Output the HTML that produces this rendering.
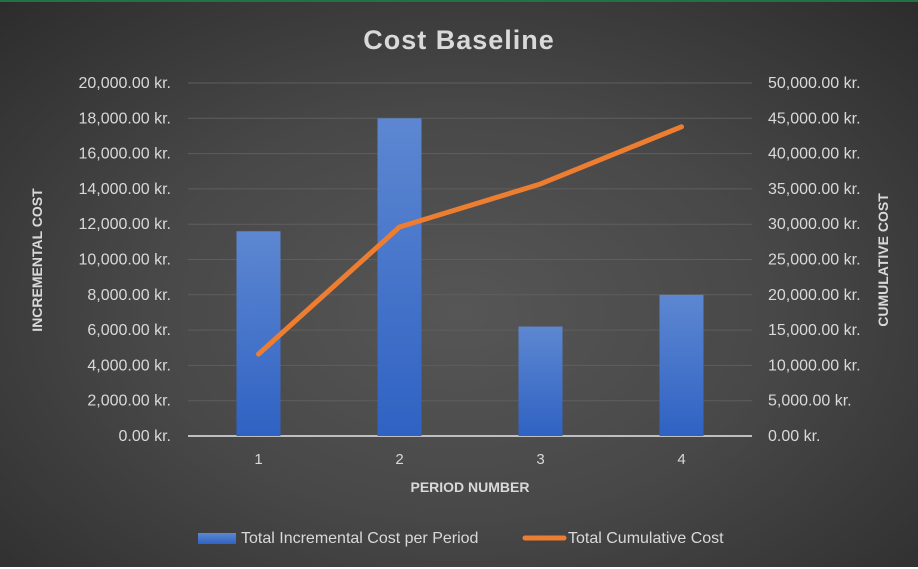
<!DOCTYPE html>
<html><head><meta charset="utf-8"><style>
html,body{margin:0;padding:0;}
body{width:918px;height:567px;overflow:hidden;font-family:"Liberation Sans",sans-serif;}
#chart{position:relative;width:918px;height:567px;background:radial-gradient(ellipse 75% 80% at 50% 55%,#565656 0%,#484848 45%,#2a2a2a 100%);border-top:2px solid #217346;box-sizing:border-box;}
svg{position:absolute;left:0;top:0;}
text{fill:#d9d9d9;font-family:"Liberation Sans",sans-serif;}
</style></head><body>
<div id="chart">
<svg id="svg" width="918" height="567">
<defs><linearGradient id="bg" x1="0" y1="0" x2="0" y2="1"><stop offset="0" stop-color="#5d87d1"/><stop offset="1" stop-color="#2f62c3"/></linearGradient></defs>
<text x="459" y="47" text-anchor="middle" font-size="27" font-weight="bold" fill="#f2f2f2" style="letter-spacing:1px">Cost Baseline</text>
<g id="grid"></g><g id="bars"></g><g id="line"></g><g id="ticks"></g>
<text transform="translate(42,258) rotate(-90)" text-anchor="middle" font-size="14" font-weight="bold">INCREMENTAL COST</text>
<text transform="translate(888,258) rotate(-90)" text-anchor="middle" font-size="14" font-weight="bold">CUMULATIVE COST</text>
<text x="470" y="490" text-anchor="middle" font-size="14" font-weight="bold">PERIOD NUMBER</text>
<g>
<rect x="198" y="531" width="38" height="11" fill="url(#bg)"/>
<text x="241" y="541" font-size="16">Total Incremental Cost per Period</text>
<line x1="525" y1="536" x2="564" y2="536" stroke="#ed7d31" stroke-width="5" stroke-linecap="round"/>
<text x="568" y="541" font-size="16">Total Cumulative Cost</text>
</g>
</svg></div>
<script>
const categories=["1","2","3","4"];
const incremental=[11600,18000,6200,8000];
const cumulative=[11600,29600,35700,43800];
const leftTicks=[0,2000,4000,6000,8000,10000,12000,14000,16000,18000,20000];
const rightTicks=[0,5000,10000,15000,20000,25000,30000,35000,40000,45000,50000];
const X0=188,X1=752,Y0=434,Y1=81,LMAX=20000,RMAX=50000;
const ns="http://www.w3.org/2000/svg";
function yL(v){return Y0-(v/LMAX)*(Y0-Y1);}
function yR(v){return Y0-(v/RMAX)*(Y0-Y1);}
function xC(i){const w=(X1-X0)/categories.length;return X0+w*(i+0.5);}
function mk(t,a,p){const e=document.createElementNS(ns,t);for(const k in a)e.setAttribute(k,a[k]);p.appendChild(e);return e;}
const fmt=v=>v.toLocaleString('en-US',{minimumFractionDigits:2})+" kr.";
const grid=document.getElementById('grid'),ticks=document.getElementById('ticks');
leftTicks.forEach((v,i)=>{
 if(v>0){const g=mk('line',{x1:X0,x2:X1,y1:yL(v),y2:yL(v),stroke:'#5e5e5e','stroke-width':1},grid);
 
 }
 const t=mk('text',{x:171,y:yL(v)+5,'text-anchor':'end','font-size':16},ticks);t.textContent=fmt(v);
 
 
});
rightTicks.forEach(v=>{
 const t=mk('text',{x:768,y:yR(v)+5,'font-size':16},ticks);t.textContent=fmt(v);
 
 
});
const bars=document.getElementById('bars');
incremental.forEach((v,i)=>{
 const r=mk('rect',{x:xC(i)-22,y:yL(v),width:44,height:Y0-yL(v),fill:'url(#bg)'},bars);
 
 
 const t=mk('text',{x:xC(i),y:462,'text-anchor':'middle','font-size':15},ticks);t.textContent=categories[i];
 
 
});
const ax=mk('line',{x1:X0,x2:X1,y1:Y0,y2:Y0,stroke:'#bfbfbf','stroke-width':2},grid);


const pl=mk('polyline',{points:cumulative.map((v,i)=>xC(i)+','+yR(v)).join(' '),fill:'none',stroke:'#ed7d31','stroke-width':5,'stroke-linecap':'round','stroke-linejoin':'round'},document.getElementById('line'));


</script>
</body></html>
